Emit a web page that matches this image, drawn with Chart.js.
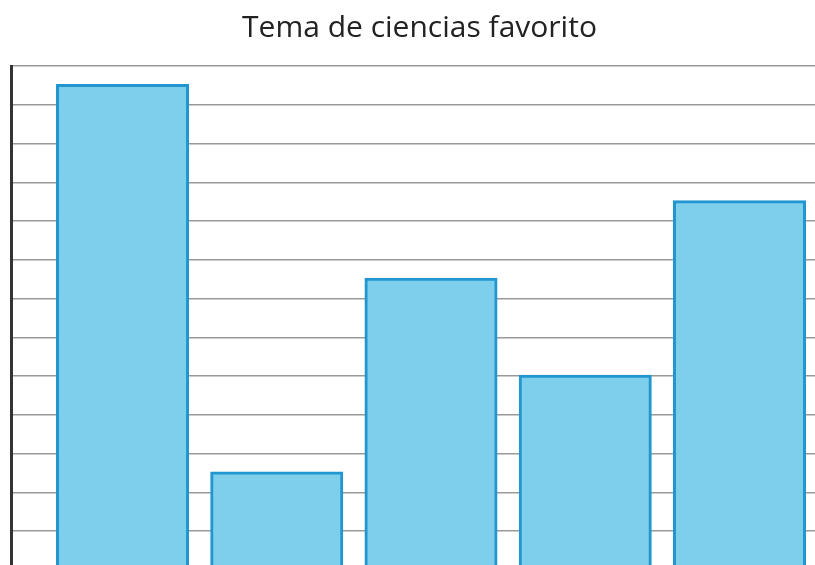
<!DOCTYPE html>
<html>
<head>
<meta charset="utf-8">
<script src="https://cdn.jsdelivr.net/npm/chart.js@4/dist/chart.umd.min.js"></script>
<style>
  html, body { margin: 0; padding: 0; overflow: hidden; background: #fff; }
  canvas { display: block; }
</style>
</head>
<body>
<canvas id="chart" width="828" height="600"></canvas>
<script>
// data
const categories = ['Biología', 'Química', 'Física', 'Astronomía', 'Geología'];
const students = [25, 5, 15, 10, 19];
const yMax = 26;
const yStep = 2;

new Chart(document.getElementById('chart'), {
  type: 'bar',
  data: {
    labels: categories,
    datasets: [{
      label: 'Estudiantes',
      data: students,
      xAxisID: 'x',
      yAxisID: 'y',
      backgroundColor: '#7ecfeb',
      borderColor: '#2196cf',
      borderWidth: 3,
      inflateAmount: 1.5,
      categoryPercentage: 1,
      barPercentage: 0.843
    }]
  },
  options: {
    responsive: false,
    animation: false,
    layout: { padding: { left: 11, right: 0, top: 0, bottom: 0 } },
    plugins: {
      legend: { display: false },
      tooltip: { enabled: false },
      title: {
        display: true,
        text: 'Tema de ciencias favorito',
        color: '#222',
        font: { family: 'Open Sans', size: 30, weight: 'normal' },
        padding: { top: 10, bottom: 20 }
      }
    },
    scales: {
      x: {
        grid: { display: false, drawTicks: false },
        border: { display: false },
        ticks: { color: '#222', font: { family: 'Open Sans', size: 16 } },
        afterFit: s => { s.height = 30; }
      },
      y: {
        position: 'left',
        weight: 0,
        min: 0,
        max: yMax,
        ticks: { display: false, stepSize: yStep },
        grid: { color: '#999', lineWidth: 1.5, drawTicks: true, tickLength: 34.4 },
        border: { display: false }
      },
      axisLine: {
        type: 'linear',
        position: 'left',
        weight: 1,
        grid: { drawOnChartArea: false, drawTicks: false },
        ticks: { display: false },
        border: { display: true, color: '#333', width: 3 }
      },
      rightPad: {
        type: 'linear',
        position: 'right',
        grid: { drawOnChartArea: false, drawTicks: true, tickLength: 11.4, color: 'rgba(0,0,0,0)' },
        ticks: { display: false },
        border: { display: false }
      }
    }
  }
});
</script>
</body>
</html>
